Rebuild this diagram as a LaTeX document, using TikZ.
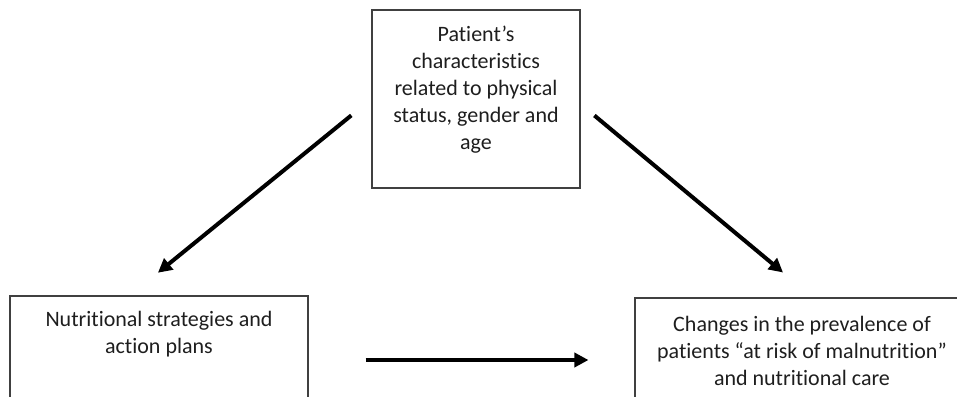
\documentclass[tikz,border=0pt]{standalone}
\usepackage{fontspec}
\setmainfont{Carlito}[Ligatures=NoCommon]
\usepackage{tikz}
\usetikzlibrary{arrows.meta, positioning, calc}
\definecolor{boxgray}{RGB}{64,64,64}
\definecolor{textgray}{RGB}{30,30,30}

\begin{document}
\begin{tikzpicture}[
    x=1pt, y=-1pt,
    box/.style={rectangle, draw=boxgray, line width=1.1pt, inner sep=0pt},
    boxtext/.style={align=center, inner sep=0pt, anchor=north, text=textgray, font=\fontsize{22}{27}\selectfont},
    arrow/.style={-{Triangle[length=14pt, width=14pt]}, line width=4pt, black}
]
\useasboundingbox (0,0) rectangle (957,396);
\clip (0,0) rectangle (957,396);

% Top box
\node[box, minimum width=208pt, minimum height=178pt] (patient) at (476,99) {};
\node[boxtext] (patienttext) at (476,26) {Patient’s\\characteristics\\related to physical\\status, gender and\\age};

% Bottom boxes
\node[box, minimum width=298pt, minimum height=128pt] (strategies) at (159,360) {};
\node[boxtext] (strategiestext) at (159,311) {Nutritional strategies and\\action plans};

\node[box, minimum width=334pt, minimum height=124pt] (changes) at (802,360) {};
\node[boxtext] (changestext) at (802,316) {Changes in the prevalence of\\patients “at risk of malnutrition”\\and nutritional care};

% Arrows
\draw[arrow, shorten <=26pt, shorten >=36pt] (patient.west) -- ([xshift=-29pt]strategies.north);
\draw[arrow, shorten <=18pt, shorten >=39pt] ([yshift=-5pt]patient.east) -- ([xshift=11pt]changes.north);
\draw[arrow, shorten <=57pt, shorten >=46pt] (strategies.east) -- (changes.west);

\end{tikzpicture}
\end{document}
